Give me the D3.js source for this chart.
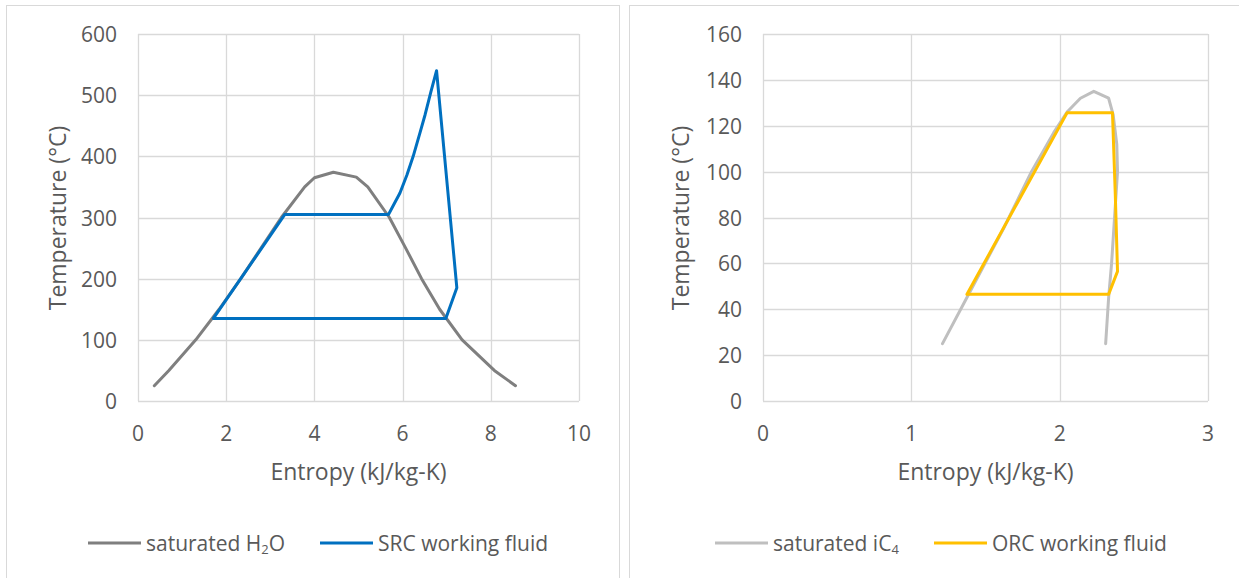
<!DOCTYPE html>
<html>
<head>
<meta charset="utf-8">
<script src="https://cdn.jsdelivr.net/npm/d3@7"></script>
<style>
  html, body { margin: 0; padding: 0; background: #fff; }
  svg { display: block; }
</style>
</head>
<body>
<div id="chart"></div>
<script>
// ---- Left: water / steam Rankine cycle ----
const h2oSat = [
  [0.37, 25], [0.70, 50], [1.31, 100], [1.84, 150], [2.33, 200], [2.79, 250],
  [3.25, 300], [3.78, 350], [4.00, 365], [4.43, 374], [4.95, 366], [5.21, 350],
  [5.70, 300], [6.07, 250], [6.43, 200], [6.84, 150], [7.35, 100], [8.08, 50], [8.56, 25]
];
const srcCycle = [
  [1.71, 135], [3.33, 305], [5.68, 305], [5.94, 340], [6.10, 370],
  [6.24, 400], [6.40, 440], [6.51, 468], [6.64, 505], [6.77, 540], [7.23, 185],
  [6.98, 135], [1.71, 135]
];

// ---- Right: isobutane organic Rankine cycle ----
const ic4Sat = [
  [1.21, 25], [1.39, 47], [1.62, 75], [1.81, 100], [1.96, 117], [2.05, 126],
  [2.14, 132], [2.23, 135], [2.33, 132], [2.36, 125], [2.385, 112], [2.39, 100],
  [2.37, 80], [2.35, 60], [2.33, 45], [2.31, 25]
];
const orcCycle = [
  [1.375, 46.5], [2.05, 125.7], [2.356, 125.7], [2.375, 90], [2.39, 56.5],
  [2.33, 46.5], [1.375, 46.5]
];

const leftXTicks = [0, 2, 4, 6, 8, 10];
const leftYTicks = [0, 100, 200, 300, 400, 500, 600];
const rightXTicks = [0, 1, 2, 3];
const rightYTicks = [0, 20, 40, 60, 80, 100, 120, 140, 160];

const W = 1239, H = 578;
const FONT = '"Open Sans", "Noto Sans", sans-serif';
const TXT = '#595959', GRID = '#d9d9d9';

const svg = d3.select('#chart').append('svg')
  .attr('width', W).attr('height', H);

// panel borders
svg.append('rect').attr('x', 6.5).attr('y', 5.5).attr('width', 613).attr('height', 600)
  .attr('fill', 'none').attr('stroke', GRID);
svg.append('rect').attr('x', 629.5).attr('y', 5.5).attr('width', 640).attr('height', 600)
  .attr('fill', 'none').attr('stroke', GRID);

function panel(cfg) {
  const x = d3.scaleLinear().domain(cfg.xDomain).range([cfg.left, cfg.right]);
  const y = d3.scaleLinear().domain(cfg.yDomain).range([401, 34]);
  const g = svg.append('g');

  // gridlines
  g.selectAll('line.vg').data(cfg.xTicks).join('line')
    .attr('x1', d => Math.round(x(d)) + 0.5).attr('x2', d => Math.round(x(d)) + 0.5)
    .attr('y1', y.range()[1]).attr('y2', y.range()[0])
    .attr('stroke', GRID).attr('stroke-width', 1.3);
  g.selectAll('line.hg').data(cfg.yTicks).join('line')
    .attr('y1', d => Math.round(y(d)) + 0.5).attr('y2', d => Math.round(y(d)) + 0.5)
    .attr('x1', x.range()[0]).attr('x2', x.range()[1])
    .attr('stroke', GRID).attr('stroke-width', 1.3);

  // tick labels
  g.selectAll('text.xt').data(cfg.xTicks).join('text')
    .attr('x', d => x(d)).attr('y', 433)
    .attr('text-anchor', 'middle').attr('dominant-baseline', 'central')
    .attr('font-family', FONT).attr('font-size', 21).attr('fill', TXT)
    .text(d => d);
  g.selectAll('text.yt').data(cfg.yTicks).join('text')
    .attr('x', cfg.left - 21).attr('y', d => y(d))
    .attr('text-anchor', 'end').attr('dominant-baseline', 'central')
    .attr('font-family', FONT).attr('font-size', 21).attr('fill', TXT)
    .text(d => d);

  // axis titles
  g.append('text')
    .attr('x', (cfg.left + cfg.right) / 2).attr('y', 471)
    .attr('text-anchor', 'middle').attr('dominant-baseline', 'central')
    .attr('font-family', FONT).attr('font-size', 23).attr('fill', TXT)
    .text('Entropy (kJ/kg-K)');
  g.append('text')
    .attr('transform', `translate(${cfg.yTitleX}, 218) rotate(-90)`)
    .attr('text-anchor', 'middle').attr('dominant-baseline', 'central')
    .attr('font-family', FONT).attr('font-size', 23).attr('fill', TXT)
    .text('Temperature (°C)');

  // curves
  const line = d3.line().x(d => x(d[0])).y(d => y(d[1]));
  cfg.series.forEach(s => {
    g.append('path').datum(s.data)
      .attr('d', line)
      .attr('fill', 'none').attr('stroke', s.color).attr('stroke-width', 3)
      .attr('stroke-linejoin', 'round').attr('stroke-linecap', 'round');
  });

  // legend
  cfg.series.forEach(s => {
    const lx = s.legendX;
    g.append('line')
      .attr('x1', lx).attr('x2', lx + 53).attr('y1', 543).attr('y2', 543)
      .attr('stroke', s.color).attr('stroke-width', 3);
    const t = g.append('text')
      .attr('x', lx + 58).attr('y', 543)
      .attr('dominant-baseline', 'central')
      .attr('font-family', FONT).attr('font-size', 21).attr('fill', TXT);
    t.append('tspan').text(s.name);
    if (s.sub) {
      t.append('tspan').attr('font-size', 13).attr('dy', 6).text(s.sub);
      if (s.after) t.append('tspan').attr('dy', -6).text(s.after);
    }
  });
}

panel({
  left: 138, right: 579, xDomain: [0, 10], yDomain: [0, 600],
  xTicks: leftXTicks, yTicks: leftYTicks, yTitleX: 57,
  series: [
    { data: h2oSat, color: '#7f7f7f', name: 'saturated H', sub: '2', after: 'O', legendX: 88 },
    { data: srcCycle, color: '#0070c0', name: 'SRC working fluid', legendX: 320 }
  ]
});

panel({
  left: 763, right: 1208, xDomain: [0, 3], yDomain: [0, 160],
  xTicks: rightXTicks, yTicks: rightYTicks, yTitleX: 680,
  series: [
    { data: ic4Sat, color: '#bfbfbf', name: 'saturated iC', sub: '4', legendX: 715 },
    { data: orcCycle, color: '#ffc000', name: 'ORC working fluid', legendX: 934 }
  ]
});
</script>
</body>
</html>
